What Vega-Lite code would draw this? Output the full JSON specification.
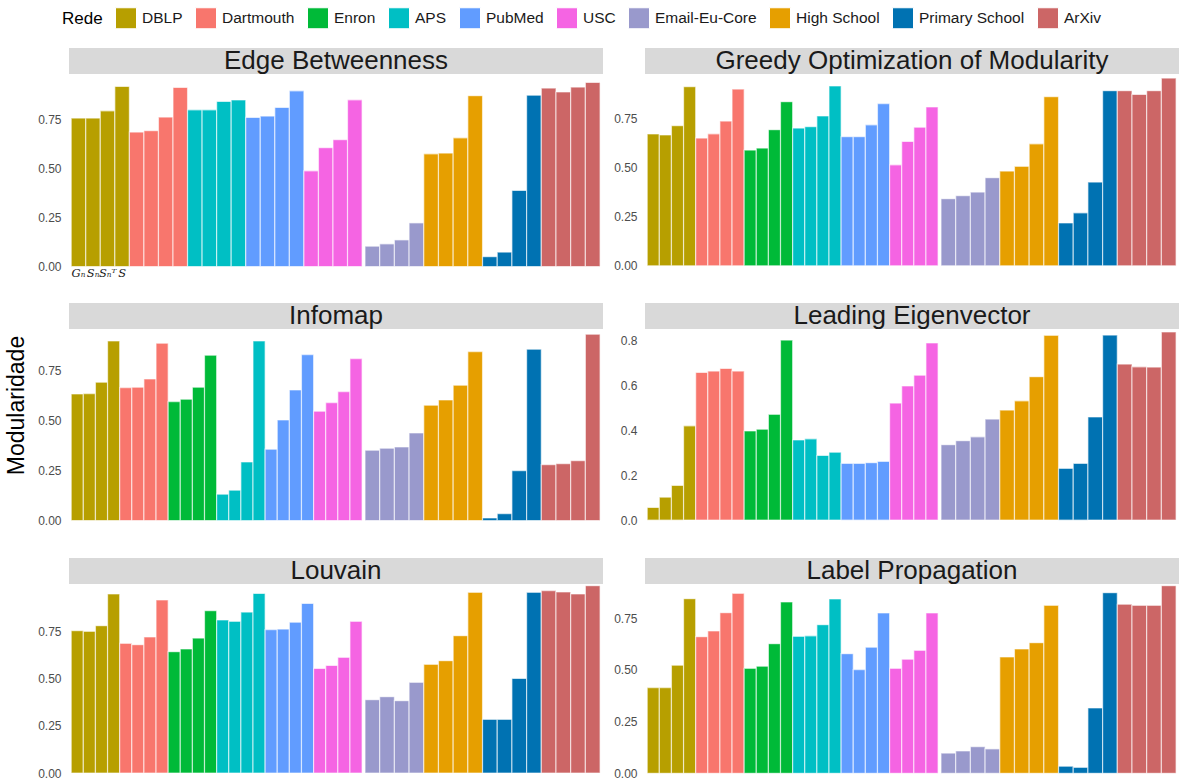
{
  "$schema": "https://vega.github.io/schema/vega-lite/v6.json",
  "background": "white",
  "padding": {"left": 5, "top": 7, "right": 0, "bottom": 0},
  "datasets": {
    "modularidade": [
      {"painel": "Edge Betweenness", "rede": "DBLP", "variante": "Gₙ", "valor": 0.759},
      {"painel": "Edge Betweenness", "rede": "DBLP", "variante": "Sₙ", "valor": 0.759},
      {"painel": "Edge Betweenness", "rede": "DBLP", "variante": "Sₙᵀ", "valor": 0.796},
      {"painel": "Edge Betweenness", "rede": "DBLP", "variante": "S", "valor": 0.920},
      {"painel": "Edge Betweenness", "rede": "Dartmouth", "variante": "Gₙ", "valor": 0.687},
      {"painel": "Edge Betweenness", "rede": "Dartmouth", "variante": "Sₙ", "valor": 0.694},
      {"painel": "Edge Betweenness", "rede": "Dartmouth", "variante": "Sₙᵀ", "valor": 0.764},
      {"painel": "Edge Betweenness", "rede": "Dartmouth", "variante": "S", "valor": 0.915},
      {"painel": "Edge Betweenness", "rede": "APS", "variante": "Gₙ", "valor": 0.801},
      {"painel": "Edge Betweenness", "rede": "APS", "variante": "Sₙ", "valor": 0.801},
      {"painel": "Edge Betweenness", "rede": "APS", "variante": "Sₙᵀ", "valor": 0.844},
      {"painel": "Edge Betweenness", "rede": "APS", "variante": "S", "valor": 0.851},
      {"painel": "Edge Betweenness", "rede": "PubMed", "variante": "Gₙ", "valor": 0.762},
      {"painel": "Edge Betweenness", "rede": "PubMed", "variante": "Sₙ", "valor": 0.769},
      {"painel": "Edge Betweenness", "rede": "PubMed", "variante": "Sₙᵀ", "valor": 0.813},
      {"painel": "Edge Betweenness", "rede": "PubMed", "variante": "S", "valor": 0.898},
      {"painel": "Edge Betweenness", "rede": "USC", "variante": "Gₙ", "valor": 0.489},
      {"painel": "Edge Betweenness", "rede": "USC", "variante": "Sₙ", "valor": 0.607},
      {"painel": "Edge Betweenness", "rede": "USC", "variante": "Sₙᵀ", "valor": 0.648},
      {"painel": "Edge Betweenness", "rede": "USC", "variante": "S", "valor": 0.852},
      {"painel": "Edge Betweenness", "rede": "Email-Eu-Core", "variante": "Gₙ", "valor": 0.104},
      {"painel": "Edge Betweenness", "rede": "Email-Eu-Core", "variante": "Sₙ", "valor": 0.116},
      {"painel": "Edge Betweenness", "rede": "Email-Eu-Core", "variante": "Sₙᵀ", "valor": 0.136},
      {"painel": "Edge Betweenness", "rede": "Email-Eu-Core", "variante": "S", "valor": 0.223},
      {"painel": "Edge Betweenness", "rede": "High School", "variante": "Gₙ", "valor": 0.576},
      {"painel": "Edge Betweenness", "rede": "High School", "variante": "Sₙ", "valor": 0.580},
      {"painel": "Edge Betweenness", "rede": "High School", "variante": "Sₙᵀ", "valor": 0.658},
      {"painel": "Edge Betweenness", "rede": "High School", "variante": "S", "valor": 0.873},
      {"painel": "Edge Betweenness", "rede": "Primary School", "variante": "Gₙ", "valor": 0.050},
      {"painel": "Edge Betweenness", "rede": "Primary School", "variante": "Sₙ", "valor": 0.074},
      {"painel": "Edge Betweenness", "rede": "Primary School", "variante": "Sₙᵀ", "valor": 0.389},
      {"painel": "Edge Betweenness", "rede": "Primary School", "variante": "S", "valor": 0.876},
      {"painel": "Edge Betweenness", "rede": "ArXiv", "variante": "Gₙ", "valor": 0.912},
      {"painel": "Edge Betweenness", "rede": "ArXiv", "variante": "Sₙ", "valor": 0.892},
      {"painel": "Edge Betweenness", "rede": "ArXiv", "variante": "Sₙᵀ", "valor": 0.917},
      {"painel": "Edge Betweenness", "rede": "ArXiv", "variante": "S", "valor": 0.941},

      {"painel": "Greedy Optimization of Modularity", "rede": "DBLP", "variante": "Gₙ", "valor": 0.672},
      {"painel": "Greedy Optimization of Modularity", "rede": "DBLP", "variante": "Sₙ", "valor": 0.667},
      {"painel": "Greedy Optimization of Modularity", "rede": "DBLP", "variante": "Sₙᵀ", "valor": 0.714},
      {"painel": "Greedy Optimization of Modularity", "rede": "DBLP", "variante": "S", "valor": 0.913},
      {"painel": "Greedy Optimization of Modularity", "rede": "Dartmouth", "variante": "Gₙ", "valor": 0.651},
      {"painel": "Greedy Optimization of Modularity", "rede": "Dartmouth", "variante": "Sₙ", "valor": 0.673},
      {"painel": "Greedy Optimization of Modularity", "rede": "Dartmouth", "variante": "Sₙᵀ", "valor": 0.738},
      {"painel": "Greedy Optimization of Modularity", "rede": "Dartmouth", "variante": "S", "valor": 0.901},
      {"painel": "Greedy Optimization of Modularity", "rede": "Enron", "variante": "Gₙ", "valor": 0.590},
      {"painel": "Greedy Optimization of Modularity", "rede": "Enron", "variante": "Sₙ", "valor": 0.600},
      {"painel": "Greedy Optimization of Modularity", "rede": "Enron", "variante": "Sₙᵀ", "valor": 0.694},
      {"painel": "Greedy Optimization of Modularity", "rede": "Enron", "variante": "S", "valor": 0.837},
      {"painel": "Greedy Optimization of Modularity", "rede": "APS", "variante": "Gₙ", "valor": 0.702},
      {"painel": "Greedy Optimization of Modularity", "rede": "APS", "variante": "Sₙ", "valor": 0.709},
      {"painel": "Greedy Optimization of Modularity", "rede": "APS", "variante": "Sₙᵀ", "valor": 0.764},
      {"painel": "Greedy Optimization of Modularity", "rede": "APS", "variante": "S", "valor": 0.917},
      {"painel": "Greedy Optimization of Modularity", "rede": "PubMed", "variante": "Gₙ", "valor": 0.658},
      {"painel": "Greedy Optimization of Modularity", "rede": "PubMed", "variante": "Sₙ", "valor": 0.658},
      {"painel": "Greedy Optimization of Modularity", "rede": "PubMed", "variante": "Sₙᵀ", "valor": 0.719},
      {"painel": "Greedy Optimization of Modularity", "rede": "PubMed", "variante": "S", "valor": 0.827},
      {"painel": "Greedy Optimization of Modularity", "rede": "USC", "variante": "Gₙ", "valor": 0.515},
      {"painel": "Greedy Optimization of Modularity", "rede": "USC", "variante": "Sₙ", "valor": 0.634},
      {"painel": "Greedy Optimization of Modularity", "rede": "USC", "variante": "Sₙᵀ", "valor": 0.707},
      {"painel": "Greedy Optimization of Modularity", "rede": "USC", "variante": "S", "valor": 0.810},
      {"painel": "Greedy Optimization of Modularity", "rede": "Email-Eu-Core", "variante": "Gₙ", "valor": 0.342},
      {"painel": "Greedy Optimization of Modularity", "rede": "Email-Eu-Core", "variante": "Sₙ", "valor": 0.357},
      {"painel": "Greedy Optimization of Modularity", "rede": "Email-Eu-Core", "variante": "Sₙᵀ", "valor": 0.376},
      {"painel": "Greedy Optimization of Modularity", "rede": "Email-Eu-Core", "variante": "S", "valor": 0.449},
      {"painel": "Greedy Optimization of Modularity", "rede": "High School", "variante": "Gₙ", "valor": 0.483},
      {"painel": "Greedy Optimization of Modularity", "rede": "High School", "variante": "Sₙ", "valor": 0.507},
      {"painel": "Greedy Optimization of Modularity", "rede": "High School", "variante": "Sₙᵀ", "valor": 0.622},
      {"painel": "Greedy Optimization of Modularity", "rede": "High School", "variante": "S", "valor": 0.862},
      {"painel": "Greedy Optimization of Modularity", "rede": "Primary School", "variante": "Gₙ", "valor": 0.218},
      {"painel": "Greedy Optimization of Modularity", "rede": "Primary School", "variante": "Sₙ", "valor": 0.270},
      {"painel": "Greedy Optimization of Modularity", "rede": "Primary School", "variante": "Sₙᵀ", "valor": 0.427},
      {"painel": "Greedy Optimization of Modularity", "rede": "Primary School", "variante": "S", "valor": 0.893},
      {"painel": "Greedy Optimization of Modularity", "rede": "ArXiv", "variante": "Gₙ", "valor": 0.893},
      {"painel": "Greedy Optimization of Modularity", "rede": "ArXiv", "variante": "Sₙ", "valor": 0.874},
      {"painel": "Greedy Optimization of Modularity", "rede": "ArXiv", "variante": "Sₙᵀ", "valor": 0.893},
      {"painel": "Greedy Optimization of Modularity", "rede": "ArXiv", "variante": "S", "valor": 0.957},

      {"painel": "Infomap", "rede": "DBLP", "variante": "Gₙ", "valor": 0.633},
      {"painel": "Infomap", "rede": "DBLP", "variante": "Sₙ", "valor": 0.635},
      {"painel": "Infomap", "rede": "DBLP", "variante": "Sₙᵀ", "valor": 0.692},
      {"painel": "Infomap", "rede": "DBLP", "variante": "S", "valor": 0.898},
      {"painel": "Infomap", "rede": "Dartmouth", "variante": "Gₙ", "valor": 0.665},
      {"painel": "Infomap", "rede": "Dartmouth", "variante": "Sₙ", "valor": 0.667},
      {"painel": "Infomap", "rede": "Dartmouth", "variante": "Sₙᵀ", "valor": 0.708},
      {"painel": "Infomap", "rede": "Dartmouth", "variante": "S", "valor": 0.887},
      {"painel": "Infomap", "rede": "Enron", "variante": "Gₙ", "valor": 0.595},
      {"painel": "Infomap", "rede": "Enron", "variante": "Sₙ", "valor": 0.607},
      {"painel": "Infomap", "rede": "Enron", "variante": "Sₙᵀ", "valor": 0.667},
      {"painel": "Infomap", "rede": "Enron", "variante": "S", "valor": 0.827},
      {"painel": "Infomap", "rede": "APS", "variante": "Gₙ", "valor": 0.132},
      {"painel": "Infomap", "rede": "APS", "variante": "Sₙ", "valor": 0.152},
      {"painel": "Infomap", "rede": "APS", "variante": "Sₙᵀ", "valor": 0.293},
      {"painel": "Infomap", "rede": "APS", "variante": "S", "valor": 0.898},
      {"painel": "Infomap", "rede": "PubMed", "variante": "Gₙ", "valor": 0.357},
      {"painel": "Infomap", "rede": "PubMed", "variante": "Sₙ", "valor": 0.503},
      {"painel": "Infomap", "rede": "PubMed", "variante": "Sₙᵀ", "valor": 0.653},
      {"painel": "Infomap", "rede": "PubMed", "variante": "S", "valor": 0.830},
      {"painel": "Infomap", "rede": "USC", "variante": "Gₙ", "valor": 0.547},
      {"painel": "Infomap", "rede": "USC", "variante": "Sₙ", "valor": 0.590},
      {"painel": "Infomap", "rede": "USC", "variante": "Sₙᵀ", "valor": 0.645},
      {"painel": "Infomap", "rede": "USC", "variante": "S", "valor": 0.810},
      {"painel": "Infomap", "rede": "Email-Eu-Core", "variante": "Gₙ", "valor": 0.352},
      {"painel": "Infomap", "rede": "Email-Eu-Core", "variante": "Sₙ", "valor": 0.362},
      {"painel": "Infomap", "rede": "Email-Eu-Core", "variante": "Sₙᵀ", "valor": 0.368},
      {"painel": "Infomap", "rede": "Email-Eu-Core", "variante": "S", "valor": 0.438},
      {"painel": "Infomap", "rede": "High School", "variante": "Gₙ", "valor": 0.577},
      {"painel": "Infomap", "rede": "High School", "variante": "Sₙ", "valor": 0.603},
      {"painel": "Infomap", "rede": "High School", "variante": "Sₙᵀ", "valor": 0.677},
      {"painel": "Infomap", "rede": "High School", "variante": "S", "valor": 0.845},
      {"painel": "Infomap", "rede": "Primary School", "variante": "Gₙ", "valor": 0.013},
      {"painel": "Infomap", "rede": "Primary School", "variante": "Sₙ", "valor": 0.035},
      {"painel": "Infomap", "rede": "Primary School", "variante": "Sₙᵀ", "valor": 0.250},
      {"painel": "Infomap", "rede": "Primary School", "variante": "S", "valor": 0.857},
      {"painel": "Infomap", "rede": "ArXiv", "variante": "Gₙ", "valor": 0.280},
      {"painel": "Infomap", "rede": "ArXiv", "variante": "Sₙ", "valor": 0.285},
      {"painel": "Infomap", "rede": "ArXiv", "variante": "Sₙᵀ", "valor": 0.300},
      {"painel": "Infomap", "rede": "ArXiv", "variante": "S", "valor": 0.932},

      {"painel": "Leading Eigenvector", "rede": "DBLP", "variante": "Gₙ", "valor": 0.056},
      {"painel": "Leading Eigenvector", "rede": "DBLP", "variante": "Sₙ", "valor": 0.102},
      {"painel": "Leading Eigenvector", "rede": "DBLP", "variante": "Sₙᵀ", "valor": 0.154},
      {"painel": "Leading Eigenvector", "rede": "DBLP", "variante": "S", "valor": 0.419},
      {"painel": "Leading Eigenvector", "rede": "Dartmouth", "variante": "Gₙ", "valor": 0.656},
      {"painel": "Leading Eigenvector", "rede": "Dartmouth", "variante": "Sₙ", "valor": 0.662},
      {"painel": "Leading Eigenvector", "rede": "Dartmouth", "variante": "Sₙᵀ", "valor": 0.674},
      {"painel": "Leading Eigenvector", "rede": "Dartmouth", "variante": "S", "valor": 0.662},
      {"painel": "Leading Eigenvector", "rede": "Enron", "variante": "Gₙ", "valor": 0.396},
      {"painel": "Leading Eigenvector", "rede": "Enron", "variante": "Sₙ", "valor": 0.404},
      {"painel": "Leading Eigenvector", "rede": "Enron", "variante": "Sₙᵀ", "valor": 0.470},
      {"painel": "Leading Eigenvector", "rede": "Enron", "variante": "S", "valor": 0.800},
      {"painel": "Leading Eigenvector", "rede": "APS", "variante": "Gₙ", "valor": 0.356},
      {"painel": "Leading Eigenvector", "rede": "APS", "variante": "Sₙ", "valor": 0.361},
      {"painel": "Leading Eigenvector", "rede": "APS", "variante": "Sₙᵀ", "valor": 0.287},
      {"painel": "Leading Eigenvector", "rede": "APS", "variante": "S", "valor": 0.302},
      {"painel": "Leading Eigenvector", "rede": "PubMed", "variante": "Gₙ", "valor": 0.252},
      {"painel": "Leading Eigenvector", "rede": "PubMed", "variante": "Sₙ", "valor": 0.252},
      {"painel": "Leading Eigenvector", "rede": "PubMed", "variante": "Sₙᵀ", "valor": 0.255},
      {"painel": "Leading Eigenvector", "rede": "PubMed", "variante": "S", "valor": 0.261},
      {"painel": "Leading Eigenvector", "rede": "USC", "variante": "Gₙ", "valor": 0.520},
      {"painel": "Leading Eigenvector", "rede": "USC", "variante": "Sₙ", "valor": 0.596},
      {"painel": "Leading Eigenvector", "rede": "USC", "variante": "Sₙᵀ", "valor": 0.644},
      {"painel": "Leading Eigenvector", "rede": "USC", "variante": "S", "valor": 0.787},
      {"painel": "Leading Eigenvector", "rede": "Email-Eu-Core", "variante": "Gₙ", "valor": 0.335},
      {"painel": "Leading Eigenvector", "rede": "Email-Eu-Core", "variante": "Sₙ", "valor": 0.353},
      {"painel": "Leading Eigenvector", "rede": "Email-Eu-Core", "variante": "Sₙᵀ", "valor": 0.370},
      {"painel": "Leading Eigenvector", "rede": "Email-Eu-Core", "variante": "S", "valor": 0.449},
      {"painel": "Leading Eigenvector", "rede": "High School", "variante": "Gₙ", "valor": 0.489},
      {"painel": "Leading Eigenvector", "rede": "High School", "variante": "Sₙ", "valor": 0.530},
      {"painel": "Leading Eigenvector", "rede": "High School", "variante": "Sₙᵀ", "valor": 0.637},
      {"painel": "Leading Eigenvector", "rede": "High School", "variante": "S", "valor": 0.821},
      {"painel": "Leading Eigenvector", "rede": "Primary School", "variante": "Gₙ", "valor": 0.230},
      {"painel": "Leading Eigenvector", "rede": "Primary School", "variante": "Sₙ", "valor": 0.252},
      {"painel": "Leading Eigenvector", "rede": "Primary School", "variante": "Sₙᵀ", "valor": 0.458},
      {"painel": "Leading Eigenvector", "rede": "Primary School", "variante": "S", "valor": 0.822},
      {"painel": "Leading Eigenvector", "rede": "ArXiv", "variante": "Gₙ", "valor": 0.693},
      {"painel": "Leading Eigenvector", "rede": "ArXiv", "variante": "Sₙ", "valor": 0.681},
      {"painel": "Leading Eigenvector", "rede": "ArXiv", "variante": "Sₙᵀ", "valor": 0.680},
      {"painel": "Leading Eigenvector", "rede": "ArXiv", "variante": "S", "valor": 0.836},

      {"painel": "Louvain", "rede": "DBLP", "variante": "Gₙ", "valor": 0.755},
      {"painel": "Louvain", "rede": "DBLP", "variante": "Sₙ", "valor": 0.752},
      {"painel": "Louvain", "rede": "DBLP", "variante": "Sₙᵀ", "valor": 0.782},
      {"painel": "Louvain", "rede": "DBLP", "variante": "S", "valor": 0.950},
      {"painel": "Louvain", "rede": "Dartmouth", "variante": "Gₙ", "valor": 0.688},
      {"painel": "Louvain", "rede": "Dartmouth", "variante": "Sₙ", "valor": 0.681},
      {"painel": "Louvain", "rede": "Dartmouth", "variante": "Sₙᵀ", "valor": 0.722},
      {"painel": "Louvain", "rede": "Dartmouth", "variante": "S", "valor": 0.918},
      {"painel": "Louvain", "rede": "Enron", "variante": "Gₙ", "valor": 0.644},
      {"painel": "Louvain", "rede": "Enron", "variante": "Sₙ", "valor": 0.658},
      {"painel": "Louvain", "rede": "Enron", "variante": "Sₙᵀ", "valor": 0.716},
      {"painel": "Louvain", "rede": "Enron", "variante": "S", "valor": 0.861},
      {"painel": "Louvain", "rede": "APS", "variante": "Gₙ", "valor": 0.812},
      {"painel": "Louvain", "rede": "APS", "variante": "Sₙ", "valor": 0.805},
      {"painel": "Louvain", "rede": "APS", "variante": "Sₙᵀ", "valor": 0.854},
      {"painel": "Louvain", "rede": "APS", "variante": "S", "valor": 0.953},
      {"painel": "Louvain", "rede": "PubMed", "variante": "Gₙ", "valor": 0.761},
      {"painel": "Louvain", "rede": "PubMed", "variante": "Sₙ", "valor": 0.764},
      {"painel": "Louvain", "rede": "PubMed", "variante": "Sₙᵀ", "valor": 0.800},
      {"painel": "Louvain", "rede": "PubMed", "variante": "S", "valor": 0.900},
      {"painel": "Louvain", "rede": "USC", "variante": "Gₙ", "valor": 0.555},
      {"painel": "Louvain", "rede": "USC", "variante": "Sₙ", "valor": 0.571},
      {"painel": "Louvain", "rede": "USC", "variante": "Sₙᵀ", "valor": 0.614},
      {"painel": "Louvain", "rede": "USC", "variante": "S", "valor": 0.805},
      {"painel": "Louvain", "rede": "Email-Eu-Core", "variante": "Gₙ", "valor": 0.389},
      {"painel": "Louvain", "rede": "Email-Eu-Core", "variante": "Sₙ", "valor": 0.405},
      {"painel": "Louvain", "rede": "Email-Eu-Core", "variante": "Sₙᵀ", "valor": 0.384},
      {"painel": "Louvain", "rede": "Email-Eu-Core", "variante": "S", "valor": 0.481},
      {"painel": "Louvain", "rede": "High School", "variante": "Gₙ", "valor": 0.577},
      {"painel": "Louvain", "rede": "High School", "variante": "Sₙ", "valor": 0.596},
      {"painel": "Louvain", "rede": "High School", "variante": "Sₙᵀ", "valor": 0.729},
      {"painel": "Louvain", "rede": "High School", "variante": "S", "valor": 0.959},
      {"painel": "Louvain", "rede": "Primary School", "variante": "Gₙ", "valor": 0.285},
      {"painel": "Louvain", "rede": "Primary School", "variante": "Sₙ", "valor": 0.285},
      {"painel": "Louvain", "rede": "Primary School", "variante": "Sₙᵀ", "valor": 0.502},
      {"painel": "Louvain", "rede": "Primary School", "variante": "S", "valor": 0.959},
      {"painel": "Louvain", "rede": "ArXiv", "variante": "Gₙ", "valor": 0.968},
      {"painel": "Louvain", "rede": "ArXiv", "variante": "Sₙ", "valor": 0.961},
      {"painel": "Louvain", "rede": "ArXiv", "variante": "Sₙᵀ", "valor": 0.950},
      {"painel": "Louvain", "rede": "ArXiv", "variante": "S", "valor": 0.994},

      {"painel": "Label Propagation", "rede": "DBLP", "variante": "Gₙ", "valor": 0.415},
      {"painel": "Label Propagation", "rede": "DBLP", "variante": "Sₙ", "valor": 0.415},
      {"painel": "Label Propagation", "rede": "DBLP", "variante": "Sₙᵀ", "valor": 0.523},
      {"painel": "Label Propagation", "rede": "DBLP", "variante": "S", "valor": 0.845},
      {"painel": "Label Propagation", "rede": "Dartmouth", "variante": "Gₙ", "valor": 0.661},
      {"painel": "Label Propagation", "rede": "Dartmouth", "variante": "Sₙ", "valor": 0.689},
      {"painel": "Label Propagation", "rede": "Dartmouth", "variante": "Sₙᵀ", "valor": 0.777},
      {"painel": "Label Propagation", "rede": "Dartmouth", "variante": "S", "valor": 0.871},
      {"painel": "Label Propagation", "rede": "Enron", "variante": "Gₙ", "valor": 0.508},
      {"painel": "Label Propagation", "rede": "Enron", "variante": "Sₙ", "valor": 0.518},
      {"painel": "Label Propagation", "rede": "Enron", "variante": "Sₙᵀ", "valor": 0.627},
      {"painel": "Label Propagation", "rede": "Enron", "variante": "S", "valor": 0.829},
      {"painel": "Label Propagation", "rede": "APS", "variante": "Gₙ", "valor": 0.663},
      {"painel": "Label Propagation", "rede": "APS", "variante": "Sₙ", "valor": 0.665},
      {"painel": "Label Propagation", "rede": "APS", "variante": "Sₙᵀ", "valor": 0.719},
      {"painel": "Label Propagation", "rede": "APS", "variante": "S", "valor": 0.844},
      {"painel": "Label Propagation", "rede": "PubMed", "variante": "Gₙ", "valor": 0.579},
      {"painel": "Label Propagation", "rede": "PubMed", "variante": "Sₙ", "valor": 0.502},
      {"painel": "Label Propagation", "rede": "PubMed", "variante": "Sₙᵀ", "valor": 0.610},
      {"painel": "Label Propagation", "rede": "PubMed", "variante": "S", "valor": 0.776},
      {"painel": "Label Propagation", "rede": "USC", "variante": "Gₙ", "valor": 0.508},
      {"painel": "Label Propagation", "rede": "USC", "variante": "Sₙ", "valor": 0.552},
      {"painel": "Label Propagation", "rede": "USC", "variante": "Sₙᵀ", "valor": 0.595},
      {"painel": "Label Propagation", "rede": "USC", "variante": "S", "valor": 0.776},
      {"painel": "Label Propagation", "rede": "Email-Eu-Core", "variante": "Gₙ", "valor": 0.098},
      {"painel": "Label Propagation", "rede": "Email-Eu-Core", "variante": "Sₙ", "valor": 0.108},
      {"painel": "Label Propagation", "rede": "Email-Eu-Core", "variante": "Sₙᵀ", "valor": 0.129},
      {"painel": "Label Propagation", "rede": "Email-Eu-Core", "variante": "S", "valor": 0.118},
      {"painel": "Label Propagation", "rede": "High School", "variante": "Gₙ", "valor": 0.563},
      {"painel": "Label Propagation", "rede": "High School", "variante": "Sₙ", "valor": 0.602},
      {"painel": "Label Propagation", "rede": "High School", "variante": "Sₙᵀ", "valor": 0.632},
      {"painel": "Label Propagation", "rede": "High School", "variante": "S", "valor": 0.813},
      {"painel": "Label Propagation", "rede": "Primary School", "variante": "Gₙ", "valor": 0.034},
      {"painel": "Label Propagation", "rede": "Primary School", "variante": "Sₙ", "valor": 0.029},
      {"painel": "Label Propagation", "rede": "Primary School", "variante": "Sₙᵀ", "valor": 0.316},
      {"painel": "Label Propagation", "rede": "Primary School", "variante": "S", "valor": 0.874},
      {"painel": "Label Propagation", "rede": "ArXiv", "variante": "Gₙ", "valor": 0.818},
      {"painel": "Label Propagation", "rede": "ArXiv", "variante": "Sₙ", "valor": 0.813},
      {"painel": "Label Propagation", "rede": "ArXiv", "variante": "Sₙᵀ", "valor": 0.813},
      {"painel": "Label Propagation", "rede": "ArXiv", "variante": "S", "valor": 0.908}
    ]
  },
  "columns": 2,
  "spacing": {"row": 21, "column": 7},
  "resolve": {"scale": {"x": "independent", "y": "independent", "color": "shared"}},
  "concat": [
    {
      "spacing": 0,
      "vconcat": [
        {"width": 534, "height": 26, "data": {"values": [{"titulo": "Edge Betweenness"}]}, "view": {"fill": "#D9D9D9", "stroke": null},
         "mark": {"type": "text", "fontSize": 26, "color": "#1A1A1A", "baseline": "middle", "align": "center"},
         "encoding": {"text": {"field": "titulo", "type": "nominal"}}},
        {"width": 534, "height": 199, "data": {"name": "modularidade"},
         "transform": [
           {"filter": {"field": "painel", "equal": "Edge Betweenness"}},
           {"calculate": "indexof(['DBLP','Dartmouth','Enron','APS','PubMed','USC','Email-Eu-Core','High School','Primary School','ArXiv'], datum.rede)", "as": "ord"},
           {"calculate": "indexof(['Gₙ','Sₙ','Sₙᵀ','S'], datum.variante)", "as": "vi"},
           {"window": [{"op": "dense_rank", "as": "grupo"}], "sort": [{"field": "ord", "order": "ascending"}]},
           {"calculate": "datum.ord < 6 ? 1 : 0", "as": "sec1"},
           {"joinaggregate": [{"op": "sum", "field": "sec1", "as": "n1"}]},
           {"calculate": "datum.ord < 6 ? 19.8 / datum.n1 : 1", "as": "w"},
           {"calculate": "datum.ord < 6 ? ((datum.grupo - 1) * 4 + datum.vi) * datum.w : 20 + (datum.ord - 6) * 4 + datum.vi", "as": "x0"},
           {"calculate": "datum.x0 + datum.w", "as": "x1"},
           {"calculate": "datum.x0 + datum.w / 2", "as": "xc"}
         ],
         "layer": [
           {"mark": {"type": "bar", "stroke": "white", "strokeWidth": 1.2, "strokeOpacity": 0.6},
            "encoding": {
              "x": {"field": "x0", "type": "quantitative", "scale": {"domain": [-0.15, 36.2], "nice": false, "zero": false}, "axis": {}},
              "x2": {"field": "x1"},
              "y": {"field": "valor", "type": "quantitative", "scale": {"domain": [-0.033, 0.984], "nice": false, "zero": false}, "axis": {"values": [0, 0.25, 0.5, 0.75], "format": ".2f"}},
              "y2": {"datum": 0},
              "color": {"field": "rede", "type": "nominal", "title": "Rede",
                "scale": {"domain": ["DBLP", "Dartmouth", "Enron", "APS", "PubMed", "USC", "Email-Eu-Core", "High School", "Primary School", "ArXiv"],
                          "range": ["#B79F00", "#F8766D", "#00BA38", "#00BFC4", "#619CFF", "#F564E3", "#9999CC", "#E69F00", "#0072B2", "#CC6666"]}}
            }},
           {"transform": [{"filter": {"field": "rede", "equal": "DBLP"}}],
            "mark": {"type": "text", "font": "DejaVu Serif", "fontStyle": "italic", "fontSize": 11.5, "color": "#1A1A1A", "baseline": "top", "dy": 1},
            "encoding": {
              "x": {"field": "xc", "type": "quantitative"},
              "y": {"datum": 0, "type": "quantitative"},
              "text": {"field": "variante", "type": "nominal"}
            }}
         ]}
      ]
    },
    {
      "spacing": 0,
      "vconcat": [
        {"width": 534, "height": 26, "data": {"values": [{"titulo": "Greedy Optimization of Modularity"}]}, "view": {"fill": "#D9D9D9", "stroke": null},
         "mark": {"type": "text", "fontSize": 26, "color": "#1A1A1A", "baseline": "middle", "align": "center"},
         "encoding": {"text": {"field": "titulo", "type": "nominal"}}},
        {"width": 534, "height": 199, "data": {"name": "modularidade"},
         "transform": [
           {"filter": {"field": "painel", "equal": "Greedy Optimization of Modularity"}},
           {"calculate": "indexof(['DBLP','Dartmouth','Enron','APS','PubMed','USC','Email-Eu-Core','High School','Primary School','ArXiv'], datum.rede)", "as": "ord"},
           {"calculate": "indexof(['Gₙ','Sₙ','Sₙᵀ','S'], datum.variante)", "as": "vi"},
           {"window": [{"op": "dense_rank", "as": "grupo"}], "sort": [{"field": "ord", "order": "ascending"}]},
           {"calculate": "datum.ord < 6 ? 1 : 0", "as": "sec1"},
           {"joinaggregate": [{"op": "sum", "field": "sec1", "as": "n1"}]},
           {"calculate": "datum.ord < 6 ? 19.8 / datum.n1 : 1", "as": "w"},
           {"calculate": "datum.ord < 6 ? ((datum.grupo - 1) * 4 + datum.vi) * datum.w : 20 + (datum.ord - 6) * 4 + datum.vi", "as": "x0"},
           {"calculate": "datum.x0 + datum.w", "as": "x1"}
         ],
         "mark": {"type": "bar", "stroke": "white", "strokeWidth": 1.2, "strokeOpacity": 0.6},
         "encoding": {
           "x": {"field": "x0", "type": "quantitative", "scale": {"domain": [-0.15, 36.2], "nice": false, "zero": false}, "axis": {}},
           "x2": {"field": "x1"},
           "y": {"field": "valor", "type": "quantitative", "scale": {"domain": [-0.037, 0.978], "nice": false, "zero": false}, "axis": {"values": [0, 0.25, 0.5, 0.75], "format": ".2f"}},
           "y2": {"datum": 0},
           "color": {"field": "rede", "type": "nominal", "title": "Rede",
             "scale": {"domain": ["DBLP", "Dartmouth", "Enron", "APS", "PubMed", "USC", "Email-Eu-Core", "High School", "Primary School", "ArXiv"],
                       "range": ["#B79F00", "#F8766D", "#00BA38", "#00BFC4", "#619CFF", "#F564E3", "#9999CC", "#E69F00", "#0072B2", "#CC6666"]}}
         }}
      ]
    },
    {
      "spacing": 0,
      "vconcat": [
        {"width": 534, "height": 26, "data": {"values": [{"titulo": "Infomap"}]}, "view": {"fill": "#D9D9D9", "stroke": null},
         "mark": {"type": "text", "fontSize": 26, "color": "#1A1A1A", "baseline": "middle", "align": "center"},
         "encoding": {"text": {"field": "titulo", "type": "nominal"}}},
        {"width": 534, "height": 199, "data": {"name": "modularidade"},
         "transform": [
           {"filter": {"field": "painel", "equal": "Infomap"}},
           {"calculate": "indexof(['DBLP','Dartmouth','Enron','APS','PubMed','USC','Email-Eu-Core','High School','Primary School','ArXiv'], datum.rede)", "as": "ord"},
           {"calculate": "indexof(['Gₙ','Sₙ','Sₙᵀ','S'], datum.variante)", "as": "vi"},
           {"window": [{"op": "dense_rank", "as": "grupo"}], "sort": [{"field": "ord", "order": "ascending"}]},
           {"calculate": "datum.ord < 6 ? 1 : 0", "as": "sec1"},
           {"joinaggregate": [{"op": "sum", "field": "sec1", "as": "n1"}]},
           {"calculate": "datum.ord < 6 ? 19.8 / datum.n1 : 1", "as": "w"},
           {"calculate": "datum.ord < 6 ? ((datum.grupo - 1) * 4 + datum.vi) * datum.w : 20 + (datum.ord - 6) * 4 + datum.vi", "as": "x0"},
           {"calculate": "datum.x0 + datum.w", "as": "x1"}
         ],
         "mark": {"type": "bar", "stroke": "white", "strokeWidth": 1.2, "strokeOpacity": 0.6},
         "encoding": {
           "x": {"field": "x0", "type": "quantitative", "scale": {"domain": [-0.15, 36.2], "nice": false, "zero": false}, "axis": {}},
           "x2": {"field": "x1"},
           "y": {"field": "valor", "type": "quantitative", "scale": {"domain": [-0.037, 0.958], "nice": false, "zero": false},
                 "axis": {"values": [0, 0.25, 0.5, 0.75], "format": ".2f", "title": "Modularidade", "titleFontSize": 23, "titleFontWeight": "normal", "titleColor": "#000000", "titleFont": "Liberation Sans", "titlePadding": 6, "titleY": 76}},
           "y2": {"datum": 0},
           "color": {"field": "rede", "type": "nominal", "title": "Rede",
             "scale": {"domain": ["DBLP", "Dartmouth", "Enron", "APS", "PubMed", "USC", "Email-Eu-Core", "High School", "Primary School", "ArXiv"],
                       "range": ["#B79F00", "#F8766D", "#00BA38", "#00BFC4", "#619CFF", "#F564E3", "#9999CC", "#E69F00", "#0072B2", "#CC6666"]}}
         }}
      ]
    },
    {
      "spacing": 0,
      "vconcat": [
        {"width": 534, "height": 26, "data": {"values": [{"titulo": "Leading Eigenvector"}]}, "view": {"fill": "#D9D9D9", "stroke": null},
         "mark": {"type": "text", "fontSize": 26, "color": "#1A1A1A", "baseline": "middle", "align": "center"},
         "encoding": {"text": {"field": "titulo", "type": "nominal"}}},
        {"width": 534, "height": 199, "data": {"name": "modularidade"},
         "transform": [
           {"filter": {"field": "painel", "equal": "Leading Eigenvector"}},
           {"calculate": "indexof(['DBLP','Dartmouth','Enron','APS','PubMed','USC','Email-Eu-Core','High School','Primary School','ArXiv'], datum.rede)", "as": "ord"},
           {"calculate": "indexof(['Gₙ','Sₙ','Sₙᵀ','S'], datum.variante)", "as": "vi"},
           {"window": [{"op": "dense_rank", "as": "grupo"}], "sort": [{"field": "ord", "order": "ascending"}]},
           {"calculate": "datum.ord < 6 ? 1 : 0", "as": "sec1"},
           {"joinaggregate": [{"op": "sum", "field": "sec1", "as": "n1"}]},
           {"calculate": "datum.ord < 6 ? 19.8 / datum.n1 : 1", "as": "w"},
           {"calculate": "datum.ord < 6 ? ((datum.grupo - 1) * 4 + datum.vi) * datum.w : 20 + (datum.ord - 6) * 4 + datum.vi", "as": "x0"},
           {"calculate": "datum.x0 + datum.w", "as": "x1"}
         ],
         "mark": {"type": "bar", "stroke": "white", "strokeWidth": 1.2, "strokeOpacity": 0.6},
         "encoding": {
           "x": {"field": "x0", "type": "quantitative", "scale": {"domain": [-0.15, 36.2], "nice": false, "zero": false}, "axis": {}},
           "x2": {"field": "x1"},
           "y": {"field": "valor", "type": "quantitative", "scale": {"domain": [-0.035, 0.849], "nice": false, "zero": false}, "axis": {"values": [0, 0.2, 0.4, 0.6, 0.8], "format": ".1f"}},
           "y2": {"datum": 0},
           "color": {"field": "rede", "type": "nominal", "title": "Rede",
             "scale": {"domain": ["DBLP", "Dartmouth", "Enron", "APS", "PubMed", "USC", "Email-Eu-Core", "High School", "Primary School", "ArXiv"],
                       "range": ["#B79F00", "#F8766D", "#00BA38", "#00BFC4", "#619CFF", "#F564E3", "#9999CC", "#E69F00", "#0072B2", "#CC6666"]}}
         }}
      ]
    },
    {
      "spacing": 0,
      "vconcat": [
        {"width": 534, "height": 26, "data": {"values": [{"titulo": "Louvain"}]}, "view": {"fill": "#D9D9D9", "stroke": null},
         "mark": {"type": "text", "fontSize": 26, "color": "#1A1A1A", "baseline": "middle", "align": "center"},
         "encoding": {"text": {"field": "titulo", "type": "nominal"}}},
        {"width": 534, "height": 199, "data": {"name": "modularidade"},
         "transform": [
           {"filter": {"field": "painel", "equal": "Louvain"}},
           {"calculate": "indexof(['DBLP','Dartmouth','Enron','APS','PubMed','USC','Email-Eu-Core','High School','Primary School','ArXiv'], datum.rede)", "as": "ord"},
           {"calculate": "indexof(['Gₙ','Sₙ','Sₙᵀ','S'], datum.variante)", "as": "vi"},
           {"window": [{"op": "dense_rank", "as": "grupo"}], "sort": [{"field": "ord", "order": "ascending"}]},
           {"calculate": "datum.ord < 6 ? 1 : 0", "as": "sec1"},
           {"joinaggregate": [{"op": "sum", "field": "sec1", "as": "n1"}]},
           {"calculate": "datum.ord < 6 ? 19.8 / datum.n1 : 1", "as": "w"},
           {"calculate": "datum.ord < 6 ? ((datum.grupo - 1) * 4 + datum.vi) * datum.w : 20 + (datum.ord - 6) * 4 + datum.vi", "as": "x0"},
           {"calculate": "datum.x0 + datum.w", "as": "x1"}
         ],
         "mark": {"type": "bar", "stroke": "white", "strokeWidth": 1.2, "strokeOpacity": 0.6},
         "encoding": {
           "x": {"field": "x0", "type": "quantitative", "scale": {"domain": [-0.15, 36.2], "nice": false, "zero": false}, "axis": {}},
           "x2": {"field": "x1"},
           "y": {"field": "valor", "type": "quantitative", "scale": {"domain": [-0.053, 1.003], "nice": false, "zero": false}, "axis": {"values": [0, 0.25, 0.5, 0.75], "format": ".2f"}},
           "y2": {"datum": 0},
           "color": {"field": "rede", "type": "nominal", "title": "Rede",
             "scale": {"domain": ["DBLP", "Dartmouth", "Enron", "APS", "PubMed", "USC", "Email-Eu-Core", "High School", "Primary School", "ArXiv"],
                       "range": ["#B79F00", "#F8766D", "#00BA38", "#00BFC4", "#619CFF", "#F564E3", "#9999CC", "#E69F00", "#0072B2", "#CC6666"]}}
         }}
      ]
    },
    {
      "spacing": 0,
      "vconcat": [
        {"width": 534, "height": 26, "data": {"values": [{"titulo": "Label Propagation"}]}, "view": {"fill": "#D9D9D9", "stroke": null},
         "mark": {"type": "text", "fontSize": 26, "color": "#1A1A1A", "baseline": "middle", "align": "center"},
         "encoding": {"text": {"field": "titulo", "type": "nominal"}}},
        {"width": 534, "height": 199, "data": {"name": "modularidade"},
         "transform": [
           {"filter": {"field": "painel", "equal": "Label Propagation"}},
           {"calculate": "indexof(['DBLP','Dartmouth','Enron','APS','PubMed','USC','Email-Eu-Core','High School','Primary School','ArXiv'], datum.rede)", "as": "ord"},
           {"calculate": "indexof(['Gₙ','Sₙ','Sₙᵀ','S'], datum.variante)", "as": "vi"},
           {"window": [{"op": "dense_rank", "as": "grupo"}], "sort": [{"field": "ord", "order": "ascending"}]},
           {"calculate": "datum.ord < 6 ? 1 : 0", "as": "sec1"},
           {"joinaggregate": [{"op": "sum", "field": "sec1", "as": "n1"}]},
           {"calculate": "datum.ord < 6 ? 19.8 / datum.n1 : 1", "as": "w"},
           {"calculate": "datum.ord < 6 ? ((datum.grupo - 1) * 4 + datum.vi) * datum.w : 20 + (datum.ord - 6) * 4 + datum.vi", "as": "x0"},
           {"calculate": "datum.x0 + datum.w", "as": "x1"}
         ],
         "mark": {"type": "bar", "stroke": "white", "strokeWidth": 1.2, "strokeOpacity": 0.6},
         "encoding": {
           "x": {"field": "x0", "type": "quantitative", "scale": {"domain": [-0.15, 36.2], "nice": false, "zero": false}, "axis": {}},
           "x2": {"field": "x1"},
           "y": {"field": "valor", "type": "quantitative", "scale": {"domain": [-0.047, 0.916], "nice": false, "zero": false}, "axis": {"values": [0, 0.25, 0.5, 0.75], "format": ".2f"}},
           "y2": {"datum": 0},
           "color": {"field": "rede", "type": "nominal", "title": "Rede",
             "scale": {"domain": ["DBLP", "Dartmouth", "Enron", "APS", "PubMed", "USC", "Email-Eu-Core", "High School", "Primary School", "ArXiv"],
                       "range": ["#B79F00", "#F8766D", "#00BA38", "#00BFC4", "#619CFF", "#F564E3", "#9999CC", "#E69F00", "#0072B2", "#CC6666"]}}
         }}
      ]
    }
  ],
  "config": {
    "font": "Liberation Sans",
    "view": {"stroke": null},
    "text": {"font": "Liberation Sans"},
    "axisX": {"labels": false, "ticks": false, "domain": false, "grid": false, "title": null, "minExtent": 9, "maxExtent": 9},
    "axisY": {"labelFontSize": 12, "labelColor": "#4D4D4D", "labelFont": "Liberation Sans", "domain": false, "ticks": false, "grid": false, "labelPadding": 8, "minExtent": 35, "maxExtent": 35, "title": null},
    "legend": {"orient": "none", "legendX": -7, "legendY": -41, "direction": "horizontal", "titleOrient": "left", "titleFontSize": 17, "titleFontWeight": "normal", "titleColor": "#000000", "titleFont": "Liberation Sans", "titlePadding": 12,
               "labelFontSize": 15.5, "labelColor": "#1A1A1A", "labelFont": "Liberation Sans", "labelOffset": 5, "columnPadding": 10,
               "symbolType": "square", "symbolSize": 441, "symbolStrokeColor": "#FFFFFF", "symbolStrokeWidth": 1, "symbolOpacity": 1}
  }
}
